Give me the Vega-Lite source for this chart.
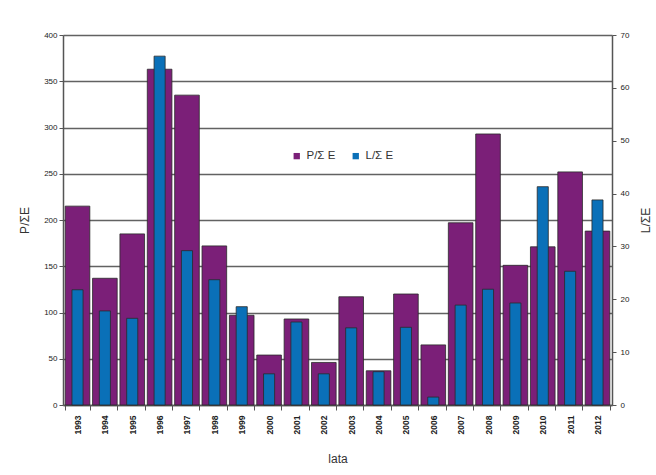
{
  "$schema": "https://vega.github.io/schema/vega-lite/v6.json",
  "autosize": {"type": "none"},
  "padding": {"left": 63, "top": 35, "right": 44, "bottom": 70},
  "width": 549,
  "height": 370,
  "background": "white",
  "config": {
    "font": "Liberation Sans",
    "view": {"stroke": null},
    "axis": {
      "labelFont": "Liberation Sans",
      "titleFont": "Liberation Sans",
      "labelColor": "#222",
      "titleColor": "#333",
      "titleFontWeight": "normal",
      "domainColor": "#555",
      "tickColor": "#555"
    }
  },
  "data": {
    "values": [
      {"rok": "1993", "P": 215, "L": 21.8},
      {"rok": "1994", "P": 137, "L": 17.8},
      {"rok": "1995", "P": 185, "L": 16.4},
      {"rok": "1996", "P": 363, "L": 66.0},
      {"rok": "1997", "P": 335, "L": 29.2},
      {"rok": "1998", "P": 172, "L": 23.7},
      {"rok": "1999", "P": 97, "L": 18.6},
      {"rok": "2000", "P": 54, "L": 5.9},
      {"rok": "2001", "P": 93, "L": 15.7},
      {"rok": "2002", "P": 46, "L": 5.9},
      {"rok": "2003", "P": 117, "L": 14.6},
      {"rok": "2004", "P": 37, "L": 6.3},
      {"rok": "2005", "P": 120, "L": 14.7},
      {"rok": "2006", "P": 65, "L": 1.5},
      {"rok": "2007", "P": 197, "L": 18.9},
      {"rok": "2008", "P": 293, "L": 21.9},
      {"rok": "2009", "P": 151, "L": 19.3},
      {"rok": "2010", "P": 171, "L": 41.3},
      {"rok": "2011", "P": 252, "L": 25.3},
      {"rok": "2012", "P": 188, "L": 38.8}
    ]
  },
  "encoding": {
    "x": {
      "field": "rok",
      "type": "ordinal",
      "scale": {"paddingInner": 0.1, "paddingOuter": 0.08},
      "axis": {
        "title": "lata",
        "titleFontSize": 12,
        "titlePadding": 20,
        "labelAngle": 270,
        "labelFontSize": 8.5,
        "labelFontWeight": "bold",
        "labelPadding": 5,
        "tickBand": "extent",
        "tickSize": 5,
        "domainWidth": 1.5
      }
    }
  },
  "layer": [
    {
      "mark": {"type": "bar", "stroke": "#2a2a2a", "strokeWidth": 0.8},
      "encoding": {
        "y": {
          "field": "P",
          "type": "quantitative",
          "scale": {"domain": [0, 400], "nice": false},
          "axis": {
            "title": "P/ΣE",
            "titleFontSize": 12,
            "titlePadding": 12,
            "values": [0, 50, 100, 150, 200, 250, 300, 350, 400],
            "labelFontSize": 8,
            "grid": true,
            "gridColor": "#626262",
            "gridWidth": 1.5,
            "tickSize": 4,
            "domainWidth": 1.5
          }
        },
        "color": {
          "datum": "P/Σ E",
          "type": "nominal",
          "scale": {"domain": ["P/Σ E", "L/Σ E"], "range": ["#7b1f78", "#0a70b8"]},
          "legend": {
            "title": null,
            "orient": "none",
            "legendX": 222,
            "legendY": 109,
            "direction": "horizontal",
            "symbolType": "square",
            "symbolSize": 40,
            "symbolStrokeWidth": 0,
            "labelFontSize": 11.5,
            "labelColor": "#333",
            "columnPadding": 14,
            "fillColor": "white",
            "padding": 6
          }
        }
      }
    },
    {
      "mark": {"type": "bar", "stroke": "#2a2a2a", "strokeWidth": 0.8, "width": {"band": 0.45}},
      "encoding": {
        "y": {
          "field": "L",
          "type": "quantitative",
          "scale": {"domain": [0, 70], "nice": false},
          "axis": {
            "orient": "right",
            "title": "L/ΣE",
            "titleFontSize": 12,
            "titleAngle": 270,
            "titlePadding": 24,
            "values": [0, 10, 20, 30, 40, 50, 60, 70],
            "labelFontSize": 8,
            "labelPadding": 4,
            "grid": false,
            "tickSize": 4,
            "domainWidth": 1.5
          }
        },
        "color": {"datum": "L/Σ E", "type": "nominal"}
      }
    }
  ],
  "resolve": {"scale": {"y": "independent"}}
}
